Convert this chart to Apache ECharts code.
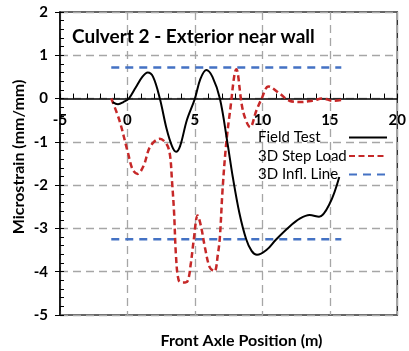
<!DOCTYPE html>
<html>
<head>
<meta charset="utf-8">
<script src="https://cdn.jsdelivr.net/npm/echarts@6/dist/echarts.min.js"></script>
<style>
  html, body { margin: 0; padding: 0; background: #fff; }
  #chart { width: 409px; height: 351px; }
</style>
</head>
<body>
<div id="chart"></div>
<script>
// Measured strain under the front axle (field test)
const fieldX = [-1.1, -0.7, -0.3, 0.1, 0.6, 1.1, 1.5, 1.9, 2.4, 2.9, 3.3, 3.6, 3.9, 4.4, 5.0, 5.4, 5.85, 6.3, 6.85, 7.4, 7.8, 8.3, 8.8, 9.2, 9.6, 10.3, 11.0, 12.0, 12.8, 13.5, 14.2, 15.0, 15.7];
const fieldY = [-0.08, -0.13, -0.08, 0.0, 0.25, 0.5, 0.6, 0.5, 0.0, -0.7, -1.1, -1.23, -1.1, -0.5, 0.0, 0.45, 0.66, 0.5, 0.0, -1.0, -1.8, -2.65, -3.25, -3.52, -3.61, -3.5, -3.26, -2.96, -2.77, -2.69, -2.73, -2.42, -1.81];

// 3D model, step load analysis
const stepX = [-1.2, -0.6, 0.05, 0.4, 0.75, 1.2, 1.7, 2.4, 2.9, 3.15, 3.3, 3.45, 3.6, 3.8, 4.1, 4.45, 4.7, 4.9, 5.2, 5.45, 5.75, 6.1, 6.45, 6.7, 6.85, 7.05, 7.3, 7.6, 8.07, 8.56, 9.1, 9.55, 9.95, 10.45, 11.3, 12.0, 12.8, 13.7, 14.5, 15.2, 15.85];
const stepY = [0.0, -0.5, -1.27, -1.65, -1.74, -1.55, -1.1, -0.93, -1.05, -1.3, -1.9, -2.6, -3.65, -4.2, -4.25, -4.22, -3.8, -3.3, -2.7, -2.95, -3.45, -3.9, -3.99, -3.6, -3.2, -2.1, -1.1, -0.3, 0.68, -0.28, -0.66, -0.28, 0.0, 0.28, 0.11, -0.05, -0.08, -0.05, 0.0, -0.05, -0.03];

// 3D model, influence line envelope (max / min)
const inflX = [-1.2, 15.85];
const inflMax = [0.72, 0.72];
const inflMin = [-3.25, -3.25];

const xTicks = { min: -5, max: 20, step: 5 };
const yTicks = { min: -5, max: 2, step: 1 };

const seriesNames = ['Field Test', '3D Step Load', '3D Infl. Line'];
const titleText = 'Culvert 2 - Exterior near wall';
const xTitle = 'Front Axle Position (m)';
const yTitle = 'Microstrain (mm/mm)';

const FONT = 'Lato';
const pairs = (xs, ys) => xs.map((x, i) => [x, ys[i]]);
const gridDash = { color: '#A6A6A6', type: [8, 5], width: 1.3 };

const chart = echarts.init(document.getElementById('chart'), null, { renderer: 'canvas' });
chart.setOption({
  animation: false,
  backgroundColor: '#fff',
  title: {
    text: titleText, left: 72, top: 27, padding: 0,
    textStyle: { fontFamily: FONT, fontSize: 19, fontWeight: 'bold', color: '#000' }
  },
  grid: {
    left: 60, right: 11, top: 12, bottom: 36,
    show: true, borderColor: '#333', borderWidth: 1.5
  },
  legend: {
    orient: 'vertical', left: 258, top: 130, align: 'right', padding: 0,
    itemWidth: 38, itemHeight: 14, itemGap: 3.5,
    itemStyle: { opacity: 0 },
    formatter: '{t|{name}}',
    textStyle: {
      fontFamily: FONT, fontSize: 15, color: '#000',
      rich: { t: { fontFamily: FONT, fontSize: 15, color: '#000', width: 86, align: 'left' } }
    },
    data: seriesNames
  },
  xAxis: {
    type: 'value', min: xTicks.min, max: xTicks.max, interval: xTicks.step,
    axisLine: { onZero: true, lineStyle: { color: '#000', width: 1.5 } },
    axisTick: { show: true, inside: true, length: 5, lineStyle: { color: '#000', width: 1 } },
    minorTick: { show: true, splitNumber: 5, length: 5, lineStyle: { color: '#000', width: 1 } },
    // tick labels sit just under the zero line
    axisLabel: { margin: -202, fontFamily: FONT, fontSize: 15, fontWeight: 'bold', color: '#000', showMinLabel: true, showMaxLabel: true },
    splitLine: { show: true, lineStyle: gridDash }
  },
  yAxis: [{
    type: 'value', min: yTicks.min, max: yTicks.max, interval: yTicks.step,
    axisLine: { show: true, onZero: false, lineStyle: { color: '#000', width: 1.5 } },
    axisTick: { show: true, inside: false, length: 5, lineStyle: { color: '#000', width: 1 } },
    axisLabel: { margin: 12, fontFamily: FONT, fontSize: 15, fontWeight: 'bold', color: '#000' },
    splitLine: { show: true, lineStyle: gridDash }
  }, {
    type: 'value', min: yTicks.min, max: yTicks.max, interval: yTicks.step, position: 'left',
    axisLine: { show: false, onZero: false },
    axisTick: { show: true, inside: true, length: 4, lineStyle: { color: '#000', width: 1 } },
    minorTick: { show: true, splitNumber: 5, length: 4, lineStyle: { color: '#000', width: 1 } },
    axisLabel: { show: false },
    splitLine: { show: false }
  }],
  series: [{
    name: seriesNames[0], type: 'line', data: pairs(fieldX, fieldY),
    smooth: 0.35, symbol: 'none', z: 5,
    lineStyle: { color: '#000', width: 2 }, itemStyle: { color: '#000' }
  }, {
    name: seriesNames[1], type: 'line', data: pairs(stepX, stepY),
    smooth: 0.35, symbol: 'none', z: 4,
    lineStyle: { color: '#C62828', width: 2.5, type: [6, 3.5] }, itemStyle: { color: '#C62828' }
  }, {
    name: seriesNames[2], type: 'line', data: pairs(inflX, inflMax),
    symbol: 'none', z: 3,
    lineStyle: { color: '#4472C4', width: 2.5, type: [8, 6] }, itemStyle: { color: '#4472C4' }
  }, {
    name: seriesNames[2], type: 'line', data: pairs(inflX, inflMin),
    symbol: 'none', z: 3,
    lineStyle: { color: '#4472C4', width: 2.5, type: [8, 6] }, itemStyle: { color: '#4472C4' }
  }],
  graphic: [{
    type: 'text', x: 241.5, y: 341,
    style: { text: xTitle, font: 'bold 16px ' + FONT, fill: '#000', align: 'center', verticalAlign: 'middle' }
  }, {
    type: 'text', x: 19, y: 157, rotation: Math.PI / 2,
    style: { text: yTitle, font: 'bold 16px ' + FONT, fill: '#000', align: 'center', verticalAlign: 'middle' }
  }]
});
</script>
</body>
</html>
